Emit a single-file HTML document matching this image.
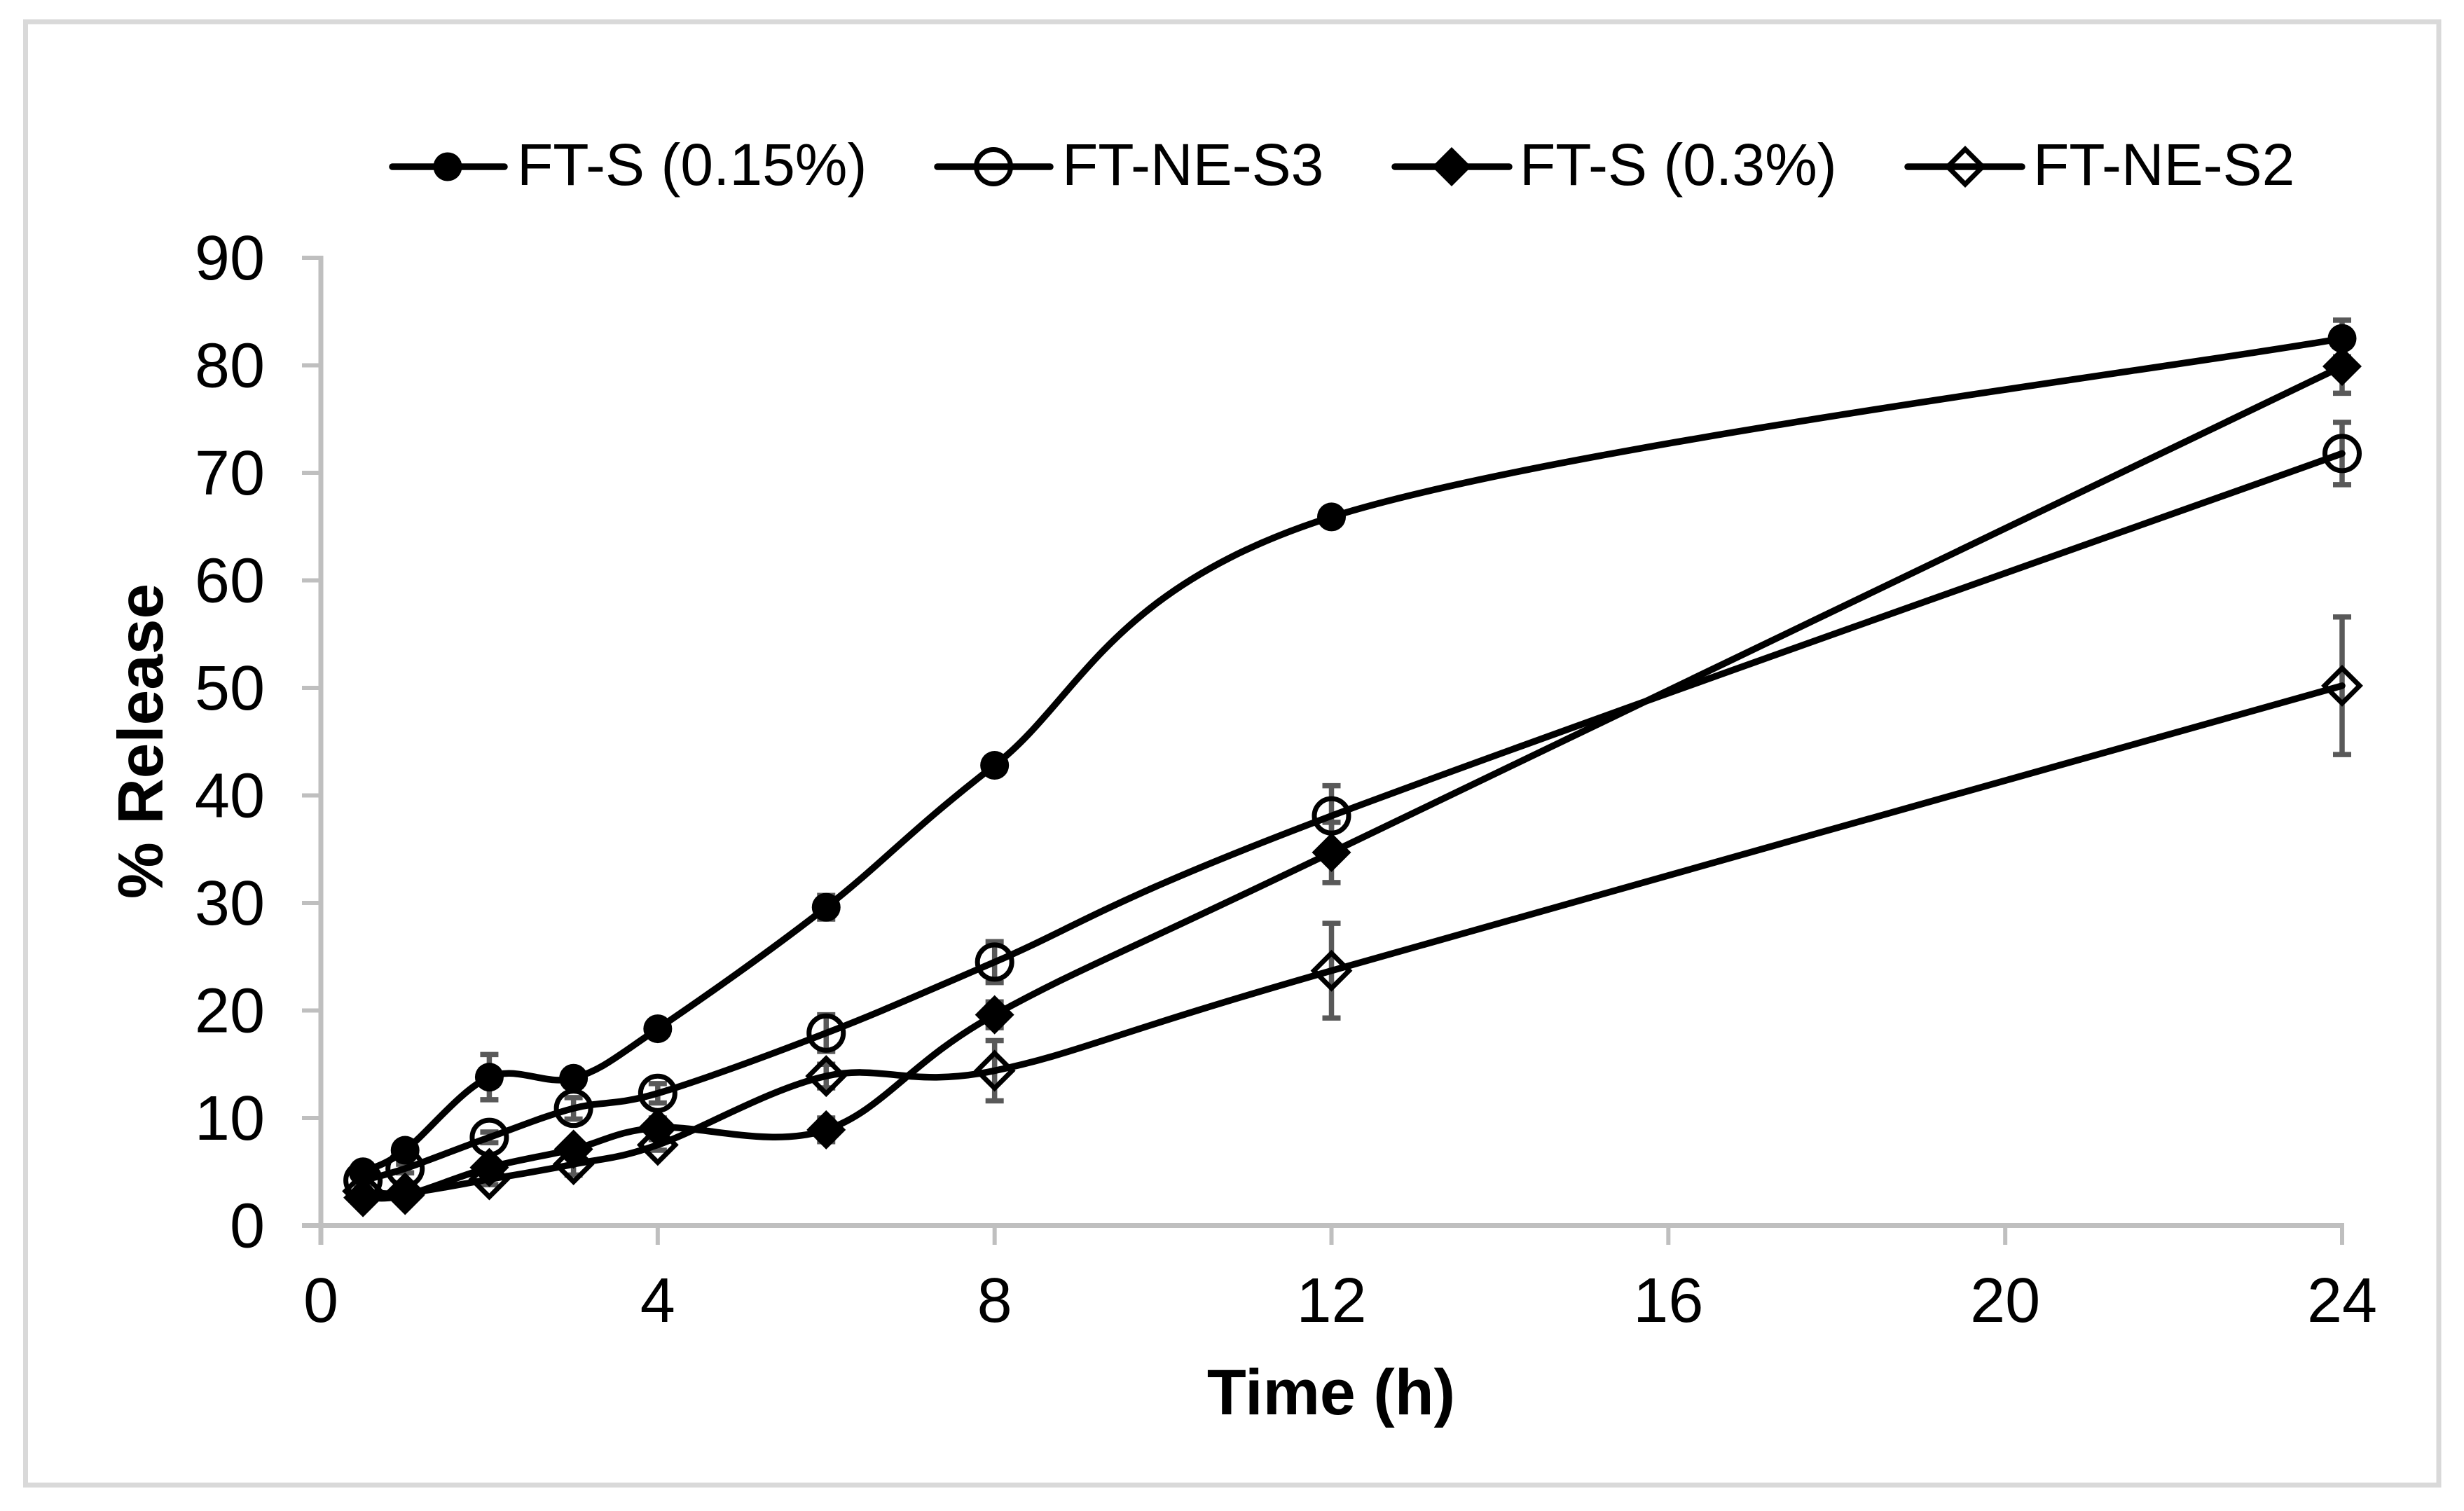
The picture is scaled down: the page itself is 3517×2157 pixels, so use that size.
<!DOCTYPE html>
<html lang="en">
<head>
<meta charset="utf-8">
<title>% Release vs Time</title>
<style>
html,body{margin:0;padding:0;background:#fff;width:3517px;height:2157px;overflow:hidden}
svg{display:block}
text{font-family:"Liberation Sans",Arial,sans-serif;fill:#000}
</style>
</head>
<body>
<svg id="chart" xmlns="http://www.w3.org/2000/svg" width="3517" height="2157" viewBox="0 0 3517 2157">
  <rect x="36.5" y="31" width="3444.5" height="2089" fill="#fff" stroke="#d9d9d9" stroke-width="7"/>
  <g id="axes"></g>
  <g id="errors"></g>
  <g id="lines"></g>
  <g id="markers"></g>

  <text x="1900" y="2019" font-size="91.5" font-weight="bold" text-anchor="middle">Time (h)</text>
  <text transform="translate(232,1058) rotate(-90)" font-size="91" font-weight="bold" text-anchor="middle">% Release</text>

  <g>
    <g>
      <line x1="560" y1="238" x2="720" y2="238" stroke="#000" stroke-width="9.5" stroke-linecap="round"/>
      <circle cx="639" cy="238" r="20.5" fill="#000"/>
      <text x="738" y="264" font-size="84">FT-S (0.15%)</text>
    </g>
    <g>
      <line x1="1338" y1="238" x2="1499" y2="238" stroke="#000" stroke-width="9.5" stroke-linecap="round"/>
      <circle cx="1418" cy="238" r="24.5" fill="none" stroke="#000" stroke-width="7"/>
      <text x="1516" y="264" font-size="84">FT-NE-S3</text>
    </g>
    <g>
      <line x1="1991" y1="238" x2="2154" y2="238" stroke="#000" stroke-width="9.5" stroke-linecap="round"/>
      <polygon points="2072,210 2100,238 2072,266 2044,238" fill="#000"/>
      <text x="2169" y="264" font-size="84">FT-S (0.3%)</text>
    </g>
    <g>
      <line x1="2723" y1="238" x2="2886" y2="238" stroke="#000" stroke-width="9.5" stroke-linecap="round"/>
      <polygon points="2805,213 2830,238 2805,263 2780,238" fill="none" stroke="#000" stroke-width="7"/>
      <text x="2902" y="264" font-size="84">FT-NE-S2</text>
    </g>
  </g>
</svg>
<script>
const times = [0.5, 1, 2, 3, 4, 6, 8, 12, 24];
const ftS015 = [5.0, 7.0, 13.8, 13.7, 18.3, 29.6, 42.8, 65.9, 82.5];
const ftNeS3 = [4.2, 5.3, 8.2, 10.9, 12.3, 17.9, 24.5, 38.1, 71.8];
const ftS03 = [2.6, 2.8, 5.4, 7.1, 9.1, 8.9, 19.6, 34.7, 79.9];
const ftNeS2 = [3.2, 3.0, 4.3, 5.7, 7.5, 13.9, 14.4, 23.7, 50.2];
const errS015 = [0.5, 0.5, 2.1, 0.6, 0.5, 1.1, 0.6, 0.6, 1.7];
const errS3 = [0.4, 0.4, 0.5, 1.0, 0.9, 1.7, 1.9, 2.8, 2.9];
const errS03 = [0.3, 0.4, 0.6, 0.7, 0.9, 1.1, 1.2, 2.8, 2.5];
const errS2 = [0.4, 0.4, 0.5, 1.0, 0.5, 1.1, 2.8, 4.4, 6.4];
const xTicks = [0, 4, 8, 12, 16, 20, 24];
const yTicks = [0, 10, 20, 30, 40, 50, 60, 70, 80, 90];

const NS = 'http://www.w3.org/2000/svg';
function xScale(t) { return 458 + t * (3343 - 458) / 24; }
function yScale(v) { return 1749.5 - v * (1749.5 - 368) / 90; }
function make(tag, parent, attrs) {
  const el = document.createElementNS(NS, tag);
  for (const k in attrs) el.setAttribute(k, attrs[k]);
  parent.appendChild(el);
  return el;
}

const axes = document.getElementById('axes');
const errorsG = document.getElementById('errors');
const linesG = document.getElementById('lines');
const markersG = document.getElementById('markers');
const axisColor = '#bfbfbf';

const yAxisLine = make('line', axes, {x1: xScale(0), y1: yScale(90) - 3, x2: xScale(0), y2: 1777, stroke: axisColor, 'stroke-width': 7});


const xAxisLine = make('line', axes, {x1: 431, y1: yScale(0), x2: xScale(24) + 3, y2: yScale(0), stroke: axisColor, 'stroke-width': 7});



yTicks.forEach(function (v) {
  const tick = make('line', axes, {x1: 431, y1: yScale(v), x2: xScale(0), y2: yScale(v), stroke: axisColor, 'stroke-width': 6});
  
  
  const label = make('text', axes, {x: 378, y: yScale(v) + 31, 'font-size': 90, 'text-anchor': 'end'});
  label.textContent = String(v);
  
  
});
xTicks.forEach(function (t) {
  const tick = make('line', axes, {x1: xScale(t), y1: yScale(0), x2: xScale(t), y2: 1777, stroke: axisColor, 'stroke-width': 6});
  
  
  const label = make('text', axes, {x: xScale(t), y: 1887, 'font-size': 90, 'text-anchor': 'middle'});
  label.textContent = String(t);
  
  
});

function smoothPath(xs, ys) {
  const pts = xs.map(function (x, i) { return [xScale(x), yScale(ys[i])]; });
  let d = 'M' + pts[0][0] + ' ' + pts[0][1];
  for (let i = 0; i < pts.length - 1; i++) {
    const p0 = pts[Math.max(i - 1, 0)], p1 = pts[i], p2 = pts[i + 1], p3 = pts[Math.min(i + 2, pts.length - 1)];
    const c1x = p1[0] + (p2[0] - p0[0]) / 6, c1y = p1[1] + (p2[1] - p0[1]) / 6;
    const c2x = p2[0] - (p3[0] - p1[0]) / 6, c2y = p2[1] - (p3[1] - p1[1]) / 6;
    d += ' C' + c1x + ' ' + c1y + ' ' + c2x + ' ' + c2y + ' ' + p2[0] + ' ' + p2[1];
  }
  return d;
}

function drawErrors(key, vals, errs) {
  times.forEach(function (t, i) {
    const x = xScale(t), top = yScale(vals[i] + errs[i]), bot = yScale(vals[i] - errs[i]);
    const p = make('path', errorsG, {d: 'M' + (x - 13) + ' ' + top + 'H' + (x + 13) + 'M' + x + ' ' + top + 'V' + bot + 'M' + (x - 13) + ' ' + bot + 'H' + (x + 13), fill: 'none', stroke: '#595959', 'stroke-width': 7.5});
    
    
  });
}

function drawLine(key, vals) {
  const p = make('path', linesG, {d: smoothPath(times, vals), fill: 'none', stroke: '#000', 'stroke-width': 9.5, 'stroke-linecap': 'round', 'stroke-linejoin': 'round'});
  
  
}

function drawMarkers(key, vals, kind) {
  times.forEach(function (t, i) {
    const x = xScale(t), y = yScale(vals[i]);
    let m;
    if (kind === 'filled-circle') m = make('circle', markersG, {cx: x, cy: y, r: 20.5, fill: '#000'});
    if (kind === 'open-circle') m = make('circle', markersG, {cx: x, cy: y, r: 24.5, fill: 'none', stroke: '#000', 'stroke-width': 7});
    if (kind === 'filled-diamond') m = make('polygon', markersG, {points: x + ',' + (y - 28) + ' ' + (x + 28) + ',' + y + ' ' + x + ',' + (y + 28) + ' ' + (x - 28) + ',' + y, fill: '#000'});
    if (kind === 'open-diamond') m = make('polygon', markersG, {points: x + ',' + (y - 25) + ' ' + (x + 25) + ',' + y + ' ' + x + ',' + (y + 25) + ' ' + (x - 25) + ',' + y, fill: 'none', stroke: '#000', 'stroke-width': 7});
    
    
  });
}

drawErrors('ft-s-015', ftS015, errS015);
drawErrors('ft-ne-s3', ftNeS3, errS3);
drawErrors('ft-s-03', ftS03, errS03);
drawErrors('ft-ne-s2', ftNeS2, errS2);

drawLine('ft-s-015', ftS015);
drawLine('ft-ne-s3', ftNeS3);
drawLine('ft-s-03', ftS03);
drawLine('ft-ne-s2', ftNeS2);

drawMarkers('ft-ne-s2', ftNeS2, 'open-diamond');
drawMarkers('ft-ne-s3', ftNeS3, 'open-circle');
drawMarkers('ft-s-015', ftS015, 'filled-circle');
drawMarkers('ft-s-03', ftS03, 'filled-diamond');
</script>
</body>
</html>
